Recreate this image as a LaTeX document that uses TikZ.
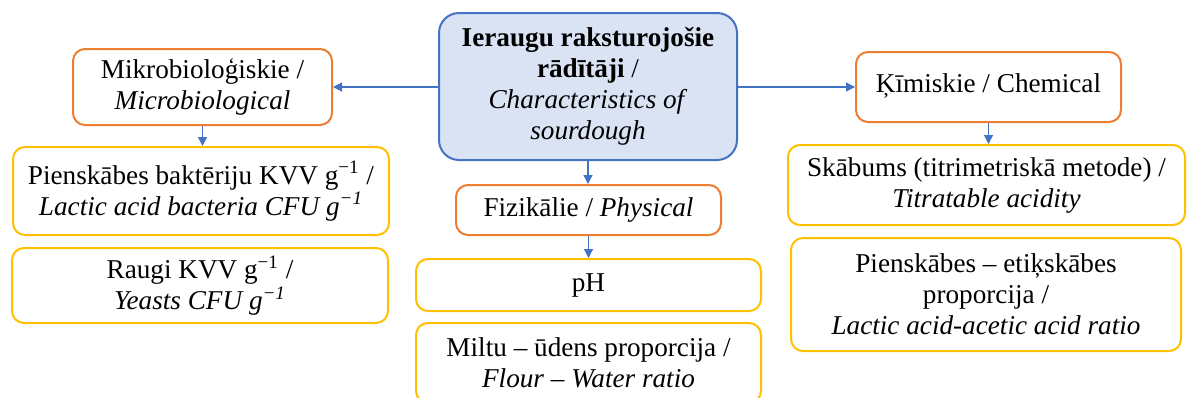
\documentclass[tikz,border=0pt]{standalone}
\usepackage{fontspec}
\setmainfont{Liberation Serif}
\usetikzlibrary{arrows.meta}
\definecolor{rootblue}{HTML}{4472C4}
\definecolor{rootfill}{HTML}{DAE3F3}
\definecolor{grouporange}{HTML}{ED7D31}
\definecolor{itemyellow}{HTML}{FFC000}
\newcommand{\sdbox}[7]{\node[#1, minimum width=#5*0.5pt, minimum height=#6*0.5pt] (#2) at ( #3 , #4 ) {#7};}
\newcommand{\inv}{\textsuperscript{−1}}

\begin{document}
\begin{tikzpicture}[x=0.5pt, y=-0.5pt,
    font=\fontsize{13.6}{15.5}\selectfont,
    basebox/.style={draw, rounded corners=6pt, line width=1pt, align=center, inner sep=2pt},
    rootbox/.style={basebox, draw=rootblue, fill=rootfill, rounded corners=10pt},
    groupbox/.style={basebox, draw=grouporange},
    itembox/.style={basebox, draw=itemyellow},
    link/.style={draw=rootblue, line width=0.6pt, -{Triangle[length=4.5pt,width=4.5pt]}}]
        \clip (0,0) rectangle (1187,397);

        % root
        \sdbox{rootbox}{root}{588}{86.5}{298}{147}{\textbf{Ieraugu raksturojošie}\\\textbf{rādītāji} /\\\textit{Characteristics of}\\\textit{sourdough}}

        % groups
        \sdbox{groupbox}{micro}{202.5}{87}{259}{76}{Mikrobioloģiskie /\\\textit{Microbiological}}
        \sdbox{groupbox}{phys}{588.5}{210}{265}{50}{Fizikālie / \textit{Physical}}
        \sdbox{groupbox}{chem}{988.5}{87}{265}{70}{\raisebox{3.5pt}{Ķīmiskie / Chemical}}

        % microbiological items
        \sdbox{itembox}{bact}{201}{191}{376}{88}{Pienskābes baktēriju KVV g\inv{} /\\\textit{Lactic acid bacteria CFU g\inv}}
        \sdbox{itembox}{yeast}{200}{285.5}{376}{75}{Raugi KVV g\inv{} /\\\textit{Yeasts CFU g\inv}}

        % physical items
        \sdbox{itembox}{ph}{588.5}{285}{345}{52}{pH}
        \sdbox{itembox}{flour}{588.5}{363}{345}{80}{Miltu – ūdens proporcija /\\\textit{Flour – Water ratio}}

        % chemical items
        \sdbox{itembox}{acid}{986.5}{185}{397}{80}{Skābums (titrimetriskā metode) /\\\textit{Titratable acidity}}
        \sdbox{itembox}{ratio}{986}{294.5}{390}{113}{Pienskābes – etiķskābes\\proporcija /\\\textit{Lactic acid-acetic acid ratio}}

        % links
        \draw[link] (root.west |- micro.east) -- (micro.east);
        \draw[link] (root.east |- chem.west) -- (chem.west);
        \draw[link] (micro.south) -- (micro.south |- bact.north);
        \draw[link] (root.south) -- (root.south |- phys.north);
        \draw[link] (phys.south) -- (phys.south |- ph.north);
        \draw[link] (chem.south) -- (chem.south |- acid.north);
    \end{tikzpicture}
\end{document}
